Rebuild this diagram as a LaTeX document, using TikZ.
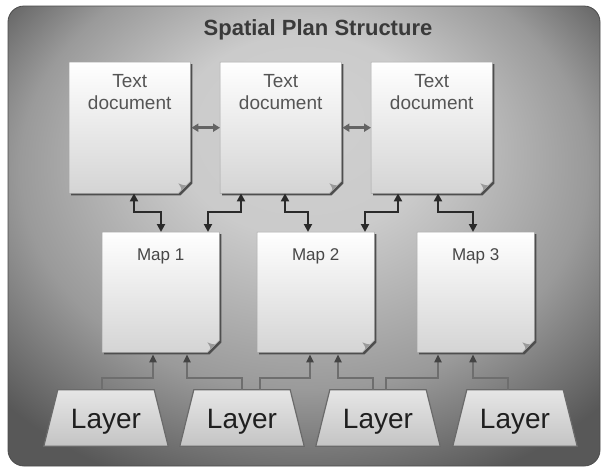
\documentclass[tikz,border=0pt]{standalone}
\usepackage{fontspec}
\setmainfont{Liberation Sans}
\usetikzlibrary{calc,arrows.meta}
\definecolor{bgdark}{HTML}{585858}
\definecolor{bgmid}{HTML}{9A9A9A}
\definecolor{bglight}{HTML}{D0D0D0}
\definecolor{titlec}{HTML}{3A3A3A}
\definecolor{doctxt}{HTML}{555555}
\definecolor{docshadowc}{HTML}{4E4E4E}
\definecolor{foldc}{HTML}{9A9A9A}
\definecolor{docbot}{HTML}{D4D4D4}
\definecolor{layertop}{HTML}{E6E6E6}
\definecolor{layerbot}{HTML}{C4C4C4}
\definecolor{layerline}{HTML}{6A6A6A}
\definecolor{connc}{HTML}{2A2A2A}
\definecolor{lconnc}{HTML}{6E6E6E}
\definecolor{lheadc}{HTML}{444444}
\definecolor{dblc}{HTML}{646464}
\pgfdeclareradialshading{bgshade}{\pgfpoint{0bp}{14bp}}{color(0bp)=(bglight); color(11bp)=(bglight!90!bgmid); color(24bp)=(bgmid); color(34bp)=(bgdark); color(50bp)=(bgdark)}
\tikzset{
  docbox/.style={rectangle, inner sep=0pt, minimum width=121pt, minimum height=131pt, anchor=north west},
  mapbox/.style={rectangle, inner sep=0pt, minimum width=117pt, minimum height=120pt, anchor=north west},
  layerbox/.style={rectangle, inner sep=0pt, minimum width=124pt, minimum height=56pt},
  doctext/.style={anchor=base, align=center, text=doctxt, font=\fontsize{19}{22}\selectfont, inner sep=0pt},
  maptext/.style={anchor=base, text=black!72, font=\fontsize{17}{20}\selectfont, inner sep=0pt},
  layertext/.style={anchor=base, text=black!88, font=\fontsize{28}{32}\selectfont, inner sep=0pt},
  titletext/.style={anchor=base, text=titlec, font=\bfseries\fontsize{22}{26}\selectfont, inner sep=0pt},
  conn/.style={draw=connc, line width=2pt, {Triangle[length=8pt,width=8pt]}-{Triangle[length=8pt,width=8pt]}},
  lconn/.style={draw=lconnc, line width=2pt, -{Triangle[length=8pt,width=7pt,color=lheadc]}},
  dbl/.style={draw=dblc, line width=2.5pt, {Triangle[length=7pt,width=8pt]}-{Triangle[length=7pt,width=8pt]}},
}
\newcommand\paperdraw[1]{%
  \fill[docshadowc] ($(#1.north west)+(2,2)$) -- ($(#1.north east)+(2,2)$) -- ($(#1.south east)+(2,-10)$) -- ($(#1.south east)+(-10,2)$) -- ($(#1.south west)+(2,2)$) -- cycle;
  \shade[top color=white, bottom color=docbot, draw=black!35, line width=0.5pt] (#1.north west) -- (#1.north east) -- ($(#1.south east)+(0,-12)$) -- ($(#1.south east)+(-12,0)$) -- (#1.south west) -- cycle;
  \fill[foldc] ($(#1.south east)+(0,-12)$) .. controls ($(#1.south east)+(-4,-7)$) .. ($(#1.south east)+(-12,-10)$) .. controls ($(#1.south east)+(-8,-4)$) .. ($(#1.south east)+(-12,0)$) -- cycle;
}
\newcommand\layerdraw[1]{%
  \shade[top color=layertop, bottom color=layerbot, draw=layerline, line width=1.2pt] (#1.south west) -- (#1.south east) -- ($(#1.north east)+(-14,0)$) -- ($(#1.north west)+(14,0)$) -- cycle;
}
\begin{document}
\begin{tikzpicture}[x=1pt,y=-1pt]
\useasboundingbox (0,0) rectangle (606,469);
\fill[white] (0,0) rectangle (606,469);
\shade[shading=bgshade, draw=black!70, line width=0.8pt, rounded corners=16pt] (8,6) rectangle (600,466);

\node[titletext] (title) at (318,35) {Spatial Plan Structure};

% nodes
\node[docbox] (d1) at (69,62) {};
\node[docbox] (d2) at (220,62) {};
\node[docbox] (d3) at (371,62) {};
\node[mapbox] (m1) at (102,232) {};
\node[mapbox] (m2) at (257,232) {};
\node[mapbox] (m3) at (417,232) {};
\node[layerbox] (l1) at (106,418) {};
\node[layerbox] (l2) at (242,418) {};
\node[layerbox] (l3) at (378,418) {};
\node[layerbox] (l4) at (515,418) {};

\paperdraw{d1}\paperdraw{d2}\paperdraw{d3}
\paperdraw{m1}\paperdraw{m2}\paperdraw{m3}
\layerdraw{l1}\layerdraw{l2}\layerdraw{l3}\layerdraw{l4}

\node[doctext] (t1) at ($(d1.north)+(0,47)$) {Text\\document};
\node[doctext] (t2) at ($(d2.north)+(0,47)$) {Text\\document};
\node[doctext] (t3) at ($(d3.north)+(0,47)$) {Text\\document};
\node[maptext] (mt1) at ($(m1.north)+(0,28)$) {Map 1};
\node[maptext] (mt2) at ($(m2.north)+(0,28)$) {Map 2};
\node[maptext] (mt3) at ($(m3.north)+(0,28)$) {Map 3};
\node[layertext] (lt1) at ($(l1.south)+(0,-18)$) {Layer};
\node[layertext] (lt2) at ($(l2.south)+(0,-18)$) {Layer};
\node[layertext] (lt3) at ($(l3.south)+(0,-18)$) {Layer};
\node[layertext] (lt4) at ($(l4.south)+(0,-18)$) {Layer};

% doc-doc
\draw[dbl] ($(d1.east)+(1,0)$) -- (d2.west);
\draw[dbl] ($(d2.east)+(1,0)$) -- (d3.west);

% doc-map
\draw[conn] ($(d1.south west)+(65,0)$) -- ++(0,19) -| ($(m1.north west)+(59,0)$);
\draw[conn] ($(d2.south west)+(21,0)$) -- ++(0,19) -| ($(m1.north west)+(106,0)$);
\draw[conn] ($(d2.south west)+(65,0)$) -- ++(0,19) -| ($(m2.north west)+(51,0)$);
\draw[conn] ($(d3.south west)+(27,0)$) -- ++(0,19) -| ($(m2.north west)+(108,0)$);
\draw[conn] ($(d3.south west)+(67,0)$) -- ++(0,19) -| ($(m3.north west)+(56,0)$);

% layer-map
\draw[lconn] ($(l1.north west)+(58,0)$) -- ++(0,-12) -| ($(m1.south west)+(51,2)$);
\draw[lconn] ($(l2.north west)+(62,0)$) -- ++(0,-12) -| ($(m1.south west)+(85,2)$);
\draw[lconn] ($(l2.north west)+(80,0)$) -- ++(0,-12) -| ($(m2.south west)+(53,2)$);
\draw[lconn] ($(l3.north west)+(57,0)$) -- ++(0,-12) -| ($(m2.south west)+(81,2)$);
\draw[lconn] ($(l3.north west)+(70,0)$) -- ++(0,-12) -| ($(m3.south west)+(21,2)$);
\draw[lconn] ($(l4.north west)+(55,0)$) -- ++(0,-12) -| ($(m3.south west)+(56,2)$);
\end{tikzpicture}
\end{document}
